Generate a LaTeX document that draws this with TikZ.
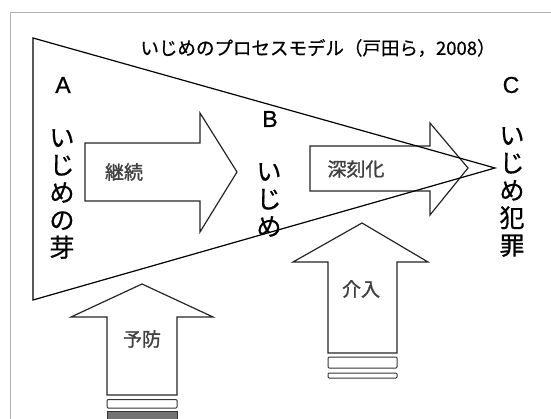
\documentclass[tikz,border=0pt]{standalone}
\usepackage{fontspec}
\setmainfont{Noto Sans CJK JP}
\newfontfamily\cjkb[FakeBold=1.3]{Noto Sans CJK JP}
\newfontfamily\cjkm[FakeBold=0.6]{Noto Sans CJK JP}
\newfontfamily\latinf[FakeBold=0.8]{Liberation Sans}
\begin{document}
\begin{tikzpicture}[x=1pt,y=-1pt,
  frameline/.style={draw=black!30,line width=1pt},
  triline/.style={draw=black,line width=1.2pt,line join=miter},
  blockarrow/.style={draw=black!85,fill=white,line width=1.2pt,line join=miter},
  stripebox/.style={draw=black!80,fill=white,line width=1pt,rounded corners=1pt},
  stripefill/.style={draw=black!80,fill=black!55,line width=1pt},
  letter/.style={inner sep=0pt,font=\latinf\fontsize{23}{25}\selectfont},
  vlabel/.style={inner sep=0pt,align=center,font=\cjkm\fontsize{25}{27.5}\selectfont},
  inlabel/.style={inner sep=0pt,text=black!75,font=\cjkb\fontsize{19}{21}\selectfont},
  titlelbl/.style={inner sep=0pt,font=\cjkm\fontsize{18.5}{20}\selectfont}]
\useasboundingbox (0,0) rectangle (551,419);
\fill[white] (0,0) rectangle (551,419);
% frame (only top and left edges visible)
\draw[frameline] (551,13) -- (10,13) -- (10,419);
% block arrows
\draw[blockarrow] (85,143) -- (200,143) -- (200,113) -- (237,172) -- (200,232) -- (200,201) -- (85,201) -- cycle;
\draw[blockarrow] (310,146) -- (430,146) -- (430,123) -- (468,168) -- (430,215) -- (430,191) -- (310,191) -- cycle;
% prevention arrow
\draw[blockarrow] (142,284) -- (213,317) -- (177,317) -- (177,395) -- (107,395) -- (107,317) -- (71,317) -- cycle;
\draw[stripebox] (107,399.5) rectangle (177,408);
\draw[stripefill] (107,411.5) rectangle (177,420);
% intervention arrow
\draw[blockarrow] (362,223) -- (428,262) -- (397,262) -- (397,353) -- (328,353) -- (328,262) -- (293,262) -- cycle;
\draw[stripebox] (328,357) rectangle (397,368);
\draw[stripebox] (328,373) rectangle (397,378);
% triangle
\draw[triline] (33,38) -- (495,168) -- (33,300) -- cycle;
% texts
\node[titlelbl] (title) at (318,48) {いじめのプロセスモデル（戸田ら，2008）};
\node[letter] (A) at (63,85) {A};
\node[letter] (B) at (270,119) {B};
\node[letter] (C) at (511,85) {C};
\node[vlabel] (sprout) at (62,194) {い\\じ\\め\\の\\芽};
\node[vlabel] (bully) at (269,200) {い\\じ\\め};
\node[vlabel] (crime) at (512,192) {い\\じ\\め\\犯\\罪};
\node[inlabel] (keizoku) at (124,172) {継続};
\node[inlabel] (shinkoku) at (356,169) {深刻化};
\node[inlabel] (yobou) at (142,339) {予防};
\node[inlabel] (kainyu) at (361,289) {介入};
\end{tikzpicture}
\end{document}
